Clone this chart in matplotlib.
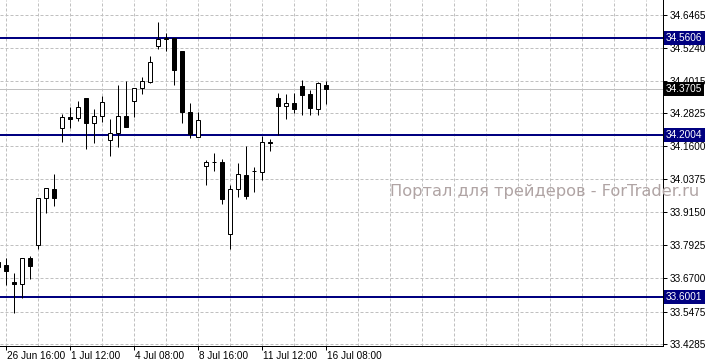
import matplotlib.pyplot as plt
import matplotlib.transforms as mtransforms

# OHLC values, oldest bar first
opens = [33.7321, 33.7198, 33.6568, 33.6482, 33.7444, 33.7938, 33.9666, 33.9999,
         34.2257, 34.2664, 34.2627, 34.3368, 34.2442, 34.2714, 34.1825, 34.2097,
         34.2714, 34.3257, 34.3738, 34.3985, 34.5317, 34.5552, 34.5614, 34.5120,
         34.2862, 34.1949, 34.0875, 34.0998, 34.0998, 33.8333, 33.9999, 34.0529,
         34.0678, 34.0653, 34.1739, 34.3368, 34.3096, 34.3183, 34.3824, 34.3528,
         34.2973, 34.3849]
highs = [33.7383, 33.7444, 33.6914, 33.7444, 33.7531, 33.9666, 34.0036, 34.0567,
         34.2775, 34.3035, 34.3269, 34.3368, 34.2960, 34.3454, 34.2590, 34.3861,
         34.4009, 34.3738, 34.4145, 34.4935, 34.6194, 34.5799, 34.5614, 34.5120,
         34.3207, 34.2874, 34.1085, 34.1332, 34.1122, 34.0159, 34.0961, 34.1615,
         34.0838, 34.1973, 34.1850, 34.3553, 34.3528, 34.3577, 34.4046, 34.3676,
         34.3960, 34.4009]
lows = [33.7075, 33.6457, 33.5433, 33.5964, 33.6667, 33.7778, 33.9135, 33.9382,
        34.1763, 34.2257, 34.2541, 34.1480, 34.1702, 34.2504, 34.1245, 34.1578,
        34.2319, 34.2689, 34.3528, 34.3948, 34.5194, 34.5132, 34.3861, 34.2467,
        34.1887, 34.1924, 34.0159, 34.0690, 33.9444, 33.7778, 33.9727, 33.9641,
        33.9912, 34.0344, 34.1430, 34.2010, 34.2603, 34.2812, 34.2751, 34.2751,
        34.2751, 34.3146]
closes = [33.7136, 33.6988, 33.6482, 33.7444, 33.7173, 33.9666, 34.0036, 33.9666,
          34.2664, 34.2590, 34.3059, 34.2442, 34.2726, 34.3220, 34.2097, 34.2714,
          34.2319, 34.3738, 34.3997, 34.4700, 34.5552, 34.5614, 34.4417, 34.2874,
          34.2035, 34.2566, 34.0998, 34.0998, 33.9641, 33.9999, 34.0567, 33.9764,
          34.0678, 34.1739, 34.1702, 34.3096, 34.3183, 34.2973, 34.3503, 34.3022,
          34.3923, 34.3705]

date_pos = [1, 9, 17, 25, 33, 41]
date_labels = ['26 Jun 16:00', '1 Jul 12:00', '4 Jul 08:00', '8 Jul 16:00',
               '11 Jul 12:00', '16 Jul 08:00']

price_ticks = [34.6465, 34.5240, 34.4015, 34.2825, 34.1600, 34.0375,
               33.9150, 33.7925, 33.6700, 33.5475, 33.4285]

levels = [34.5606, 34.2004, 33.6001]
last_price = 34.3705

watermark = 'Портал для трейдеров - ForTrader.ru'

plt.rcParams['font.family'] = ['Liberation Sans', 'DejaVu Sans']
px = 0.72  # one pixel in points at dpi 100

fig = plt.figure(figsize=(7.06, 3.64), dpi=100)
ax = fig.add_axes([0, 18 / 364, 663 / 706, 346 / 364])

ax.set_xlim(0.25, 83.125)
ax.set_ylim(33.4199, 34.7008)

#### grid ####
for gx in range(1, 84, 4):
    ax.axvline(gx, color='#c0c0c0', lw=px, dashes=(3, 2), zorder=0)
for gy in price_ticks:
    ax.axhline(gy, color='#c0c0c0', lw=px, dashes=(3, 2), zorder=0)

#### levels ####
ax.axhline(last_price, color='#c0c0c0', lw=px, zorder=1)
for lv in levels:
    ax.axhline(lv, color='#000080', lw=2 * px, zorder=1)

#### candles ####
xs = list(range(len(opens)))
ax.vlines(xs, lows, highs, color='black', lw=px, zorder=2)
for i in xs:
    o, c = opens[i], closes[i]
    fill = 'white' if c >= o else 'black'
    ax.bar(i, abs(c - o), bottom=min(o, c), width=0.5, color=fill,
           edgecolor='black', linewidth=px, zorder=3)

#### axes ####
for s in ['top', 'left']:
    ax.spines[s].set_visible(False)
for s in ['right', 'bottom']:
    ax.spines[s].set_linewidth(px)
    ax.spines[s].set_color('black')

ax.yaxis.tick_right()
ax.set_yticks(price_ticks)
ax.set_yticklabels([f'{v:.4f}' for v in price_ticks])
ax.tick_params(axis='y', length=3, width=px, pad=2, labelsize=7.2)

ax.set_xticks(date_pos)
ax.set_xticklabels(date_labels, ha='left')
ax.tick_params(axis='x', length=3, width=px, pad=0.5, labelsize=7.2)
offset = mtransforms.ScaledTranslation(1 / 100, 0, fig.dpi_scale_trans)
for lab in ax.get_xticklabels():
    lab.set_transform(lab.get_transform() + offset)

#### price labels on the right ####
trans = mtransforms.blended_transform_factory(ax.transAxes, ax.transData)
for lv in levels:
    ax.text(1.0 + 3 / 663, lv, f'{lv:.4f}', transform=trans, color='white',
            fontsize=7.2, va='center', ha='left', clip_on=False, zorder=5,
            bbox=dict(boxstyle='square,pad=0.2', fc='#000080', ec='none'))
ax.text(1.0 + 3 / 663, last_price, f'{last_price:.4f}', transform=trans,
        color='white', fontsize=7.2, va='center', ha='left', clip_on=False,
        zorder=5, bbox=dict(boxstyle='square,pad=0.2', fc='black', ec='none'))

#### watermark ####
ax.text(390 / 663, 1 - 192 / 346, watermark, transform=ax.transAxes,
        family='DejaVu Sans', fontsize=11.7, color='#b0a4a4', va='center',
        ha='left', zorder=4)

fig.savefig('out.png', dpi=100)
